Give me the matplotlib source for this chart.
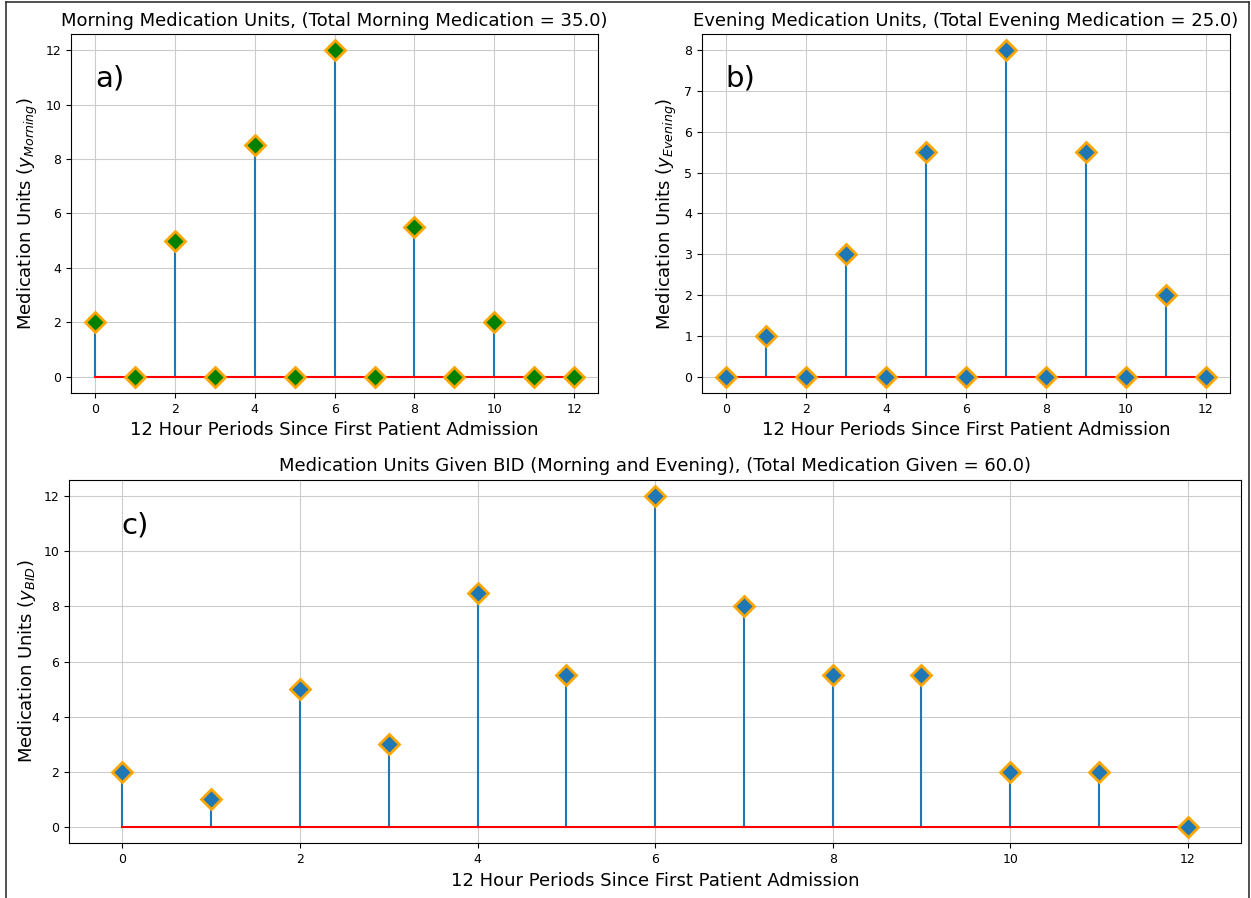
import numpy as np
import matplotlib
matplotlib.use('Agg')
import matplotlib.pyplot as plt
from matplotlib.lines import Line2D

periods = np.arange(13)
morning = [2, 0, 5, 0, 8.5, 0, 12, 0, 5.5, 0, 2, 0, 0]
evening = [0, 1, 0, 3, 0, 5.5, 0, 8, 0, 5.5, 0, 2, 0]
bid = [m + e for m, e in zip(morning, evening)]

xlab = '12 Hour Periods Since First Patient Admission'

fig = plt.figure(figsize=(12.51, 8.98), dpi=100)
ax1 = fig.add_axes([0.0568, 0.5624, 0.4213, 0.3998])
ax2 = fig.add_axes([0.5612, 0.5624, 0.4220, 0.3998])
ax3 = fig.add_axes([0.0552, 0.0607, 0.9369, 0.4053])

def stem_plot(ax, y, face, title, ylab, tag):
    markers, stems, base = ax.stem(periods, y, linefmt='C0-', markerfmt='D', basefmt='r-')
    markers.set_markerfacecolor(face)
    markers.set_markeredgecolor('orange')
    markers.set_markeredgewidth(2)
    markers.set_markersize(10)
    markers.set_zorder(3)
    ax.grid(True, color='#cccccc')
    ax.set_title(title, fontsize=13)
    ax.set_xlabel(xlab, fontsize=13)
    ax.set_ylabel(ylab, fontsize=13)
    ax.tick_params(labelsize=9)
    ax.text(0.045, 0.875, tag, transform=ax.transAxes, fontsize=21, va='center')

stem_plot(ax1, morning, 'green',
          'Morning Medication Units, (Total Morning Medication = %.1f)' % sum(morning),
          r'Medication Units ($y_{Morning}$)', 'a)')
stem_plot(ax2, evening, 'C0',
          'Evening Medication Units, (Total Evening Medication = %.1f)' % sum(evening),
          r'Medication Units ($y_{Evening}$)', 'b)')
stem_plot(ax3, bid, 'C0',
          'Medication Units Given BID (Morning and Evening), (Total Medication Given = %.1f)' % sum(bid),
          r'Medication Units ($y_{BID}$)', 'c)')

# screenshot frame
for xs, ys in [([0.0048, 0.0048], [0, 0.998]), ([0.0048, 0.9984], [0.998, 0.998]),
               ([0.9984, 0.9984], [0, 0.998])]:
    fig.add_artist(Line2D(xs, ys, color='#333333', lw=1.2, transform=fig.transFigure))

fig.savefig('out.png', dpi=100)
